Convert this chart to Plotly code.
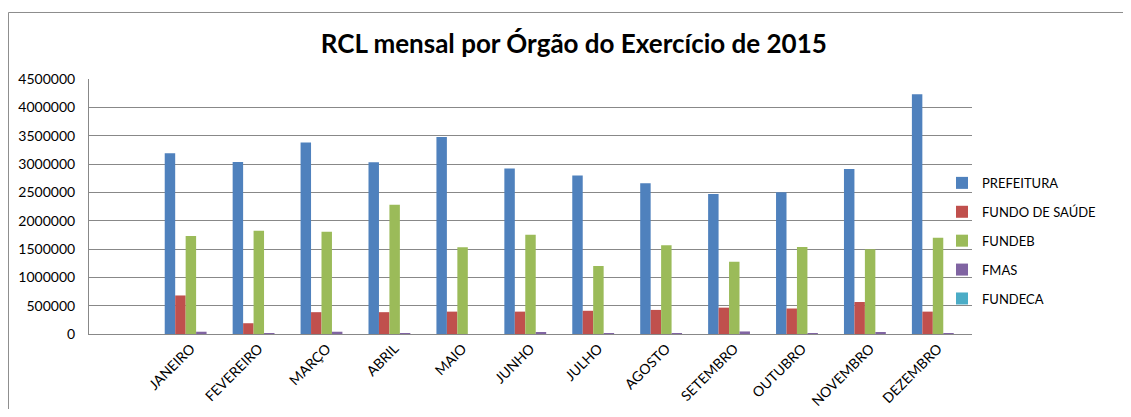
import plotly.graph_objects as go

# first slot is left empty, as in the original spreadsheet chart
months = [" ", "JANEIRO", "FEVEREIRO", "MARÇO", "ABRIL", "MAIO", "JUNHO", "JULHO",
          "AGOSTO", "SETEMBRO", "OUTUBRO", "NOVEMBRO", "DEZEMBRO"]

prefeitura = [None, 3190000, 3035000, 3380000, 3030000, 3475000, 2920000, 2795000,
              2660000, 2470000, 2500000, 2910000, 4230000]
fundo_saude = [None, 680000, 190000, 385000, 385000, 395000, 395000, 410000,
               425000, 465000, 450000, 565000, 395000]
fundeb = [None, 1730000, 1820000, 1805000, 2280000, 1530000, 1750000, 1200000,
          1565000, 1275000, 1535000, 1495000, 1700000]
fmas = [None, 40000, 15000, 40000, 15000, 0, 30000, 15000,
        5000, 45000, 15000, 25000, 5000]
fundeca = [None, 0, 0, 0, 0, 0, 0, 0, 0, 0, 0, 0, 0]

series = [
    ("PREFEITURA", prefeitura, "#4F81BD"),
    ("FUNDO DE SAÚDE", fundo_saude, "#C0504D"),
    ("FUNDEB", fundeb, "#9BBB59"),
    ("FMAS", fmas, "#8064A2"),
    ("FUNDECA", fundeca, "#4BACC6"),
]

fig = go.Figure()
for name, vals, color in series:
    fig.add_trace(go.Bar(
        x=months,
        y=vals,
        name=name,
        legendgroup=name,
        marker=dict(color=color, line=dict(width=0)),
    ))

# chart-area frame (runs off the right and bottom edge like the original)
fig.add_shape(
    type="rect", xref="paper", yref="paper",
    x0=-0.0912, x1=1.25, y0=-0.5, y1=1.2608,
    line=dict(color="#8c8c8c", width=1), fillcolor="rgba(0,0,0,0)",
    layer="below",
)

# the page body adds an 8px offset, so the figure is a bit smaller
fig.update_layout(
    width=1115,
    height=401,
    title=dict(
        text="<b>RCL mensal por Órgão do Exercício de 2015</b>",
        x=0.549, xref="paper", xanchor="center", y=0.91, yanchor="middle",
        font=dict(family="Lato", size=26, color="black"),
    ),
    font=dict(family="Lato", size=13, color="black"),
    barmode="group",
    bargap=0.23,
    bargroupgap=0,
    plot_bgcolor="white",
    paper_bgcolor="white",
    margin=dict(l=81, r=151, t=71, b=75, autoexpand=False),
    legend=dict(
        x=0.966, xanchor="left", xref="paper",
        y=0.365, yanchor="middle",
        font=dict(family="Lato", size=13, color="black"),
        traceorder="grouped",
        tracegroupgap=9,
        itemwidth=30,
        bgcolor="rgba(0,0,0,0)",
    ),
    xaxis=dict(
        type="category",
        categoryorder="array",
        categoryarray=months,
        range=[-0.5, 12.5],
        tickangle=-45,
        showgrid=False,
        showline=True,
        linecolor="#888888",
        linewidth=1,
        ticks="",
        tickfont=dict(family="Lato", size=14, color="black"),
    ),
    yaxis=dict(
        range=[0, 4500000],
        dtick=500000,
        tickformat="d",
        showgrid=True,
        gridcolor="#888888",
        gridwidth=1,
        showline=True,
        linecolor="#888888",
        linewidth=1,
        zeroline=False,
        ticks="",
        ticklabelstandoff=10,
        tickfont=dict(family="Lato", size=14, color="black"),
    ),
)

fig.write_html("out.html")
